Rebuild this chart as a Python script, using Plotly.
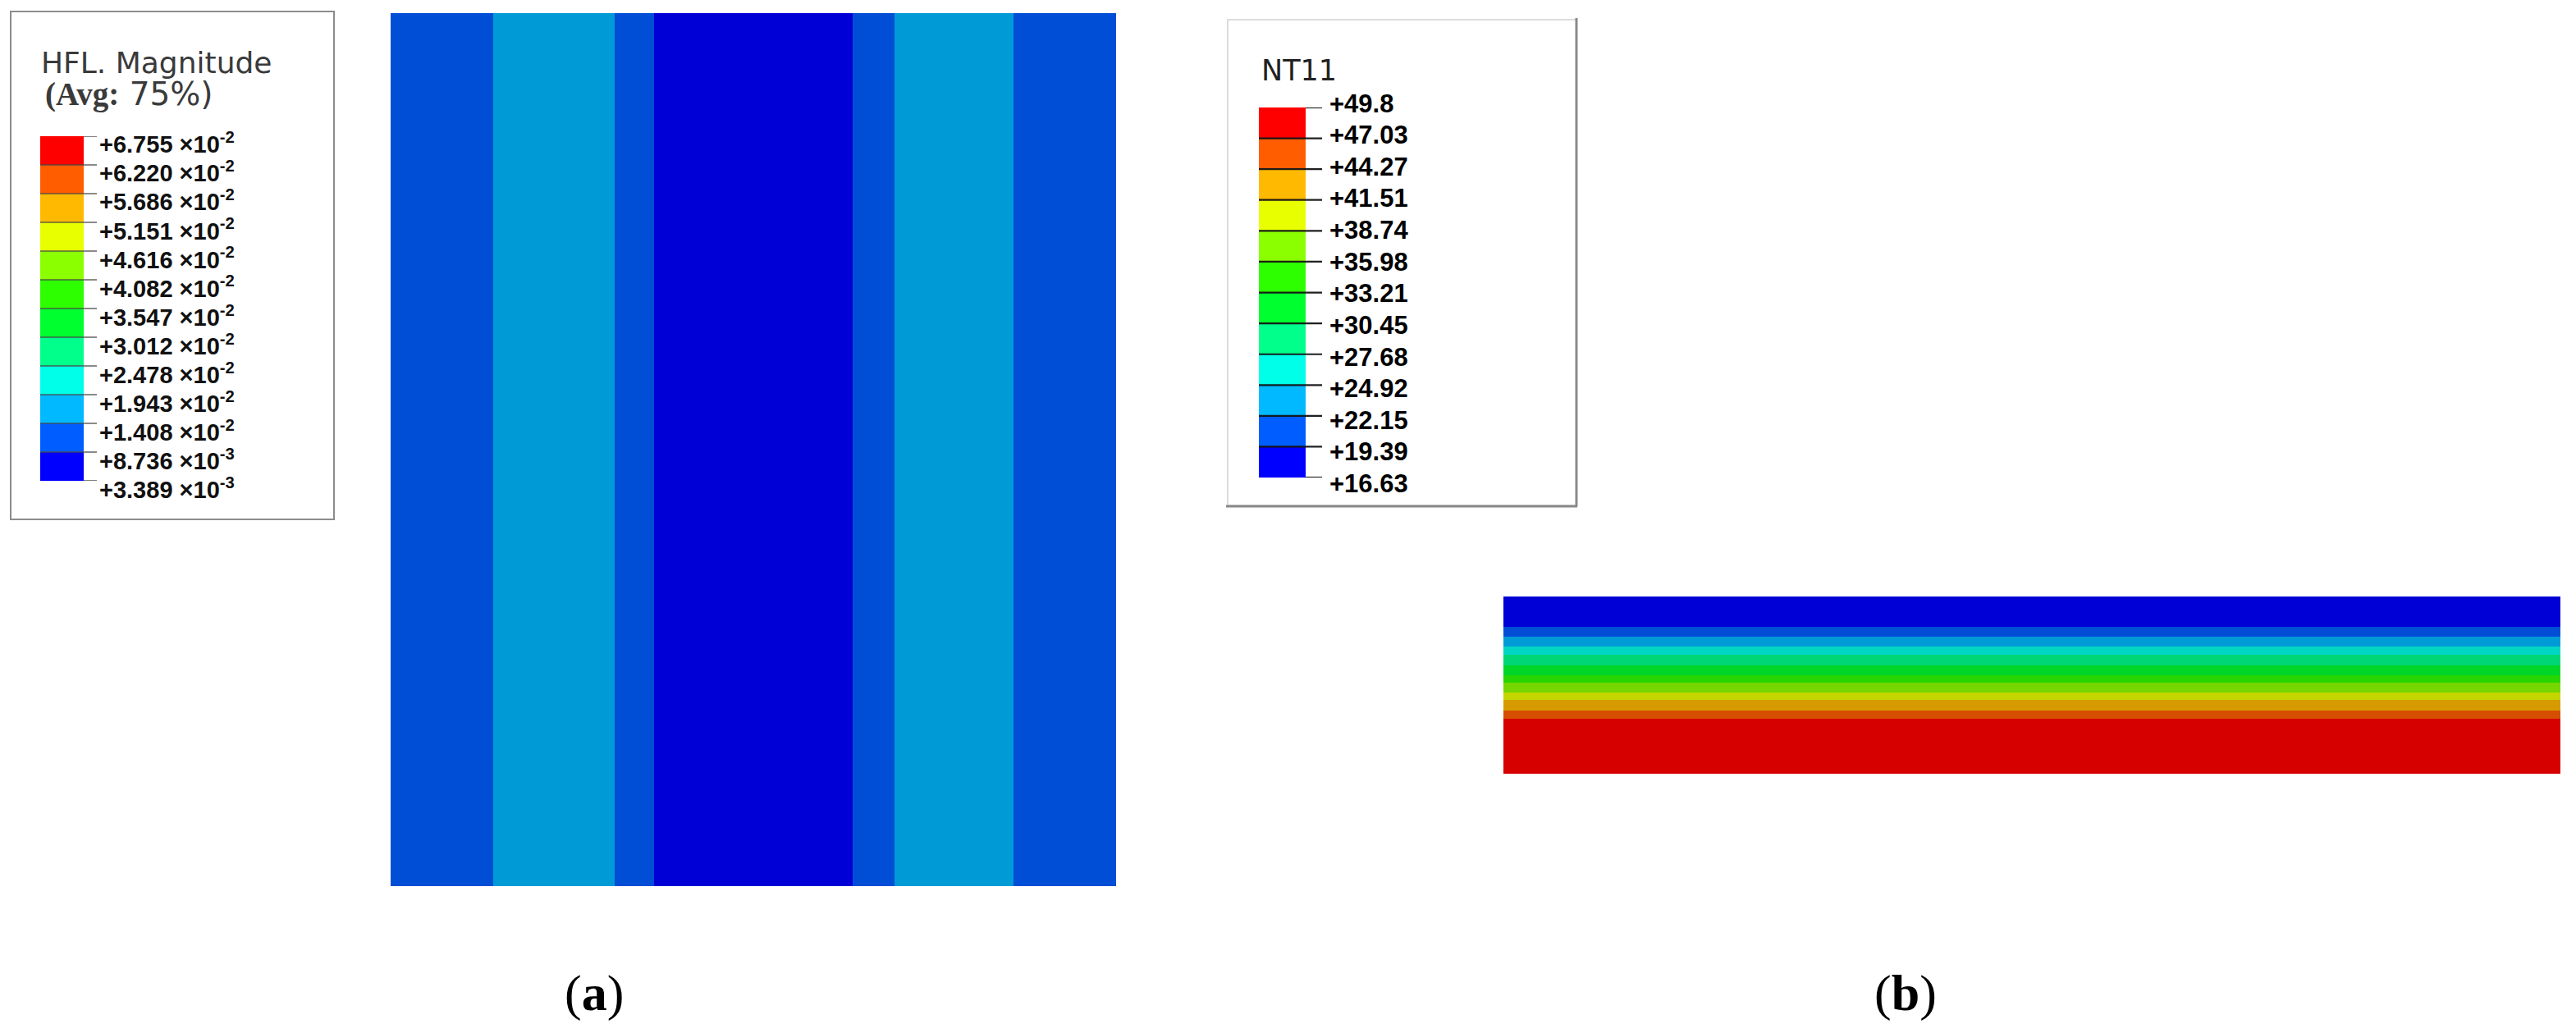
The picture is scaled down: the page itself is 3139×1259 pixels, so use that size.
import numpy as np
import plotly.graph_objects as go

W, H = 3139, 1259

# ---------------- data ----------------
# (a) heat-flux magnitude (HFL) legend levels and vertical strips across the width
hfl_levels = [3.389e-3, 8.736e-3, 1.408e-2, 1.943e-2, 2.478e-2, 3.012e-2, 3.547e-2,
              4.082e-2, 4.616e-2, 5.151e-2, 5.686e-2, 6.220e-2, 6.755e-2]
hfl_tick_text = ["+3.389 ×10<sup>-3</sup>", "+8.736 ×10<sup>-3</sup>", "+1.408 ×10<sup>-2</sup>",
                 "+1.943 ×10<sup>-2</sup>", "+2.478 ×10<sup>-2</sup>", "+3.012 ×10<sup>-2</sup>",
                 "+3.547 ×10<sup>-2</sup>", "+4.082 ×10<sup>-2</sup>", "+4.616 ×10<sup>-2</sup>",
                 "+5.151 ×10<sup>-2</sup>", "+5.686 ×10<sup>-2</sup>", "+6.220 ×10<sup>-2</sup>",
                 "+6.755 ×10<sup>-2</sup>"]
strip_edges = [0.0, 0.141, 0.309, 0.363, 0.637, 0.695, 0.859, 1.0]
strip_hfl = [1.15e-2, 1.68e-2, 1.15e-2, 6.0e-3, 1.15e-2, 1.68e-2, 1.15e-2]

# (b) nodal temperature NT11 legend levels and through-thickness profile (depth 0 = top)
nt_levels = [16.63, 19.39, 22.15, 24.92, 27.68, 30.45, 33.21, 35.98, 38.74, 41.51, 44.27, 47.03, 49.8]
nt_tick_text = ["+16.63", "+19.39", "+22.15", "+24.92", "+27.68", "+30.45", "+33.21",
                "+35.98", "+38.74", "+41.51", "+44.27", "+47.03", "+49.8"]
depth = [0.0, 0.167, 0.222, 0.278, 0.324, 0.384, 0.440, 0.486, 0.537, 0.583, 0.639, 0.685, 1.0]
temperature = [16.63, 19.39, 22.15, 24.92, 27.68, 30.45, 33.21, 35.98, 38.74, 41.51, 44.27, 47.03, 49.8]

# Abaqus default 12-step spectrum
spectrum = ["#0000FF", "#005DFF", "#00B9FF", "#00FFE8", "#00FF8B", "#00FF2E",
            "#2EFF00", "#8BFF00", "#E8FF00", "#FFB900", "#FF5D00", "#FF0000"]


# ---------------- helpers ----------------
def shade(hex_color, f=0.84):
    r, g, b = (int(hex_color[i:i + 2], 16) for i in (1, 3, 5))
    return "rgb(%d,%d,%d)" % (round(r * f), round(g * f), round(b * f))


def discrete(colors):
    n = len(colors)
    cs = []
    for i, c in enumerate(colors):
        cs.append([i / n, c])
        cs.append([(i + 1) / n, c])
    return cs


def px_x(p):
    return p / W


def px_y(p):
    return 1 - p / H


spectrum_shaded = [shade(c) for c in spectrum]

fig = go.Figure()

# ---- panel (a): strips ----
fig.add_trace(go.Heatmap(
    x=strip_edges, y=[0, 1], z=[strip_hfl],
    zmin=hfl_levels[0], zmax=hfl_levels[-1],
    colorscale=discrete(spectrum_shaded), showscale=False, hoverinfo="skip",
    xaxis="x", yaxis="y"))

# ---- panel (b): temperature profile ----
fig.add_trace(go.Heatmap(
    x=[0, 1], y=depth, z=[[t, t] for t in temperature],
    zmin=nt_levels[0], zmax=nt_levels[-1], zsmooth="best",
    colorscale=discrete(spectrum_shaded), showscale=False, hoverinfo="skip",
    xaxis="x2", yaxis="y2"))


# ---- legend bars ----
def legend_bar(levels, xa, ya):
    mids = [(levels[i] + levels[i + 1]) / 2 for i in range(len(levels) - 1)]
    fig.add_trace(go.Heatmap(
        x=[0, 1], y=levels, z=[[m] for m in mids],
        zmin=levels[0], zmax=levels[-1],
        colorscale=discrete(spectrum), showscale=False, hoverinfo="skip",
        xaxis=xa, yaxis=ya))


legend_bar(hfl_levels, "x3", "y3")
legend_bar(nt_levels, "x4", "y4")


def tick_lines(levels, x_end, xa, ya, color, width):
    xs, ys = [], []
    for i, lv in enumerate(levels):
        start = 1.0 if (i == 0 or i == len(levels) - 1) else 0.0
        xs += [start, x_end, None]
        ys += [lv, lv, None]
    fig.add_trace(go.Scatter(x=xs, y=ys, mode="lines", line=dict(color=color, width=width),
                             hoverinfo="skip", showlegend=False, xaxis=xa, yaxis=ya,
                             cliponaxis=False))


A_END = 69 / 53
B_END = 77 / 57
tick_lines(hfl_levels, A_END, "x3", "y3", "rgba(70,70,70,0.85)", 1.6)
tick_lines(nt_levels, B_END, "x4", "y4", "rgba(20,20,20,0.95)", 2.2)


# ---- legend tick labels (text marks on their own label axes) ----
def tick_labels(levels, texts, xa, ya, size, color):
    fig.add_trace(go.Scatter(
        x=[0] * len(levels), y=levels, mode="text",
        text=["<b>%s</b>" % t for t in texts], textposition="middle right",
        textfont=dict(family="Liberation Sans", size=size, color=color),
        hoverinfo="skip", showlegend=False, cliponaxis=False, xaxis=xa, yaxis=ya))


tick_labels(hfl_levels, hfl_tick_text, "x5", "y5", 29, "#111111")
tick_labels(nt_levels, nt_tick_text, "x6", "y6", 31, "#000000")


# ---------------- layout ----------------
def dom(a, b, f):
    return [f(a), f(b)] if f is px_x else [f(b), f(a)]


ax_common = dict(visible=False, showgrid=False, zeroline=False, fixedrange=True)

fig.update_layout(
    width=W, height=H, autosize=False,
    margin=dict(l=0, r=0, t=0, b=0, pad=0),
    paper_bgcolor="white", plot_bgcolor="rgba(0,0,0,0)",
    showlegend=False,
    xaxis=dict(domain=dom(476, 1360, px_x), range=[0, 1], anchor="y", **ax_common),
    yaxis=dict(domain=dom(16, 1080, px_y), range=[0, 1], anchor="x", **ax_common),
    xaxis2=dict(domain=dom(1832, 3120, px_x), range=[0, 1], anchor="y2", **ax_common),
    yaxis2=dict(domain=dom(727, 943, px_y), range=[1, 0], anchor="x2", **ax_common),
    xaxis3=dict(domain=dom(49, 118, px_x), range=[0, A_END], anchor="y3", **ax_common),
    yaxis3=dict(domain=dom(166, 586, px_y), range=[hfl_levels[0], hfl_levels[-1]], anchor="x3", **ax_common),
    xaxis4=dict(domain=dom(1534, 1611, px_x), range=[0, B_END], anchor="y4", **ax_common),
    yaxis4=dict(domain=dom(131, 582, px_y), range=[nt_levels[0], nt_levels[-1]], anchor="x4", **ax_common),
    xaxis5=dict(domain=dom(121, 400, px_x), range=[0, 1], anchor="y5", **ax_common),
    yaxis5=dict(domain=dom(179, 600, px_y), range=[hfl_levels[0], hfl_levels[-1]], anchor="x5", **ax_common),
    xaxis6=dict(domain=dom(1620, 1900, px_x), range=[0, 1], anchor="y6", **ax_common),
    yaxis6=dict(domain=dom(129, 592, px_y), range=[nt_levels[0], nt_levels[-1]], anchor="x6", **ax_common),
)

# legend boxes
shapes = [
    dict(type="rect", xref="paper", yref="paper", x0=px_x(13), x1=px_x(407), y0=px_y(633), y1=px_y(14),
         line=dict(color="#8c8c8c", width=2), fillcolor="rgba(0,0,0,0)", layer="below"),
    dict(type="rect", xref="paper", yref="paper", x0=px_x(1496), x1=px_x(1921), y0=px_y(616), y1=px_y(24),
         line=dict(color="#dcdcdc", width=2), fillcolor="rgba(0,0,0,0)", layer="below"),
    dict(type="line", xref="paper", yref="paper", x0=px_x(1921), x1=px_x(1921), y0=px_y(617), y1=px_y(22),
         line=dict(color="#8a8a8a", width=3)),
    dict(type="line", xref="paper", yref="paper", x0=px_x(1494), x1=px_x(1922), y0=px_y(617), y1=px_y(617),
         line=dict(color="#8a8a8a", width=3)),
]
fig.update_layout(shapes=shapes)

ann = []
# legend (a) title
ann.append(dict(text="HFL. Magnitude", xref="paper", yref="paper", x=px_x(48), y=px_y(76),
                xanchor="left", yanchor="middle", showarrow=False,
                font=dict(family="DejaVu Sans", size=36, color="#3a3a3a")))
ann.append(dict(text='<span style="font-family:Liberation Serif;font-weight:bold">(Avg:</span> 75%)',
                xref="paper", yref="paper", x=px_x(53), y=px_y(115),
                xanchor="left", yanchor="middle", showarrow=False,
                font=dict(family="DejaVu Sans", size=39, color="#3a3a3a")))
# legend (b) title
ann.append(dict(text="NT11", xref="paper", yref="paper", x=px_x(1535), y=px_y(86),
                xanchor="left", yanchor="middle", showarrow=False,
                font=dict(family="DejaVu Sans", size=35, color="#222222")))
# panel labels
for lab, cx in (("a", 724), ("b", 2322)):
    ann.append(dict(text="(<b>%s</b>)" % lab, xref="paper", yref="paper", x=px_x(cx), y=px_y(1210),
                    xanchor="center", yanchor="middle", showarrow=False,
                    font=dict(family="Liberation Serif", size=62, color="#000000")))
fig.update_layout(annotations=ann)

fig.write_html("out.html", config={"displayModeBar": False},
               post_script="document.body.style.margin='0';")
